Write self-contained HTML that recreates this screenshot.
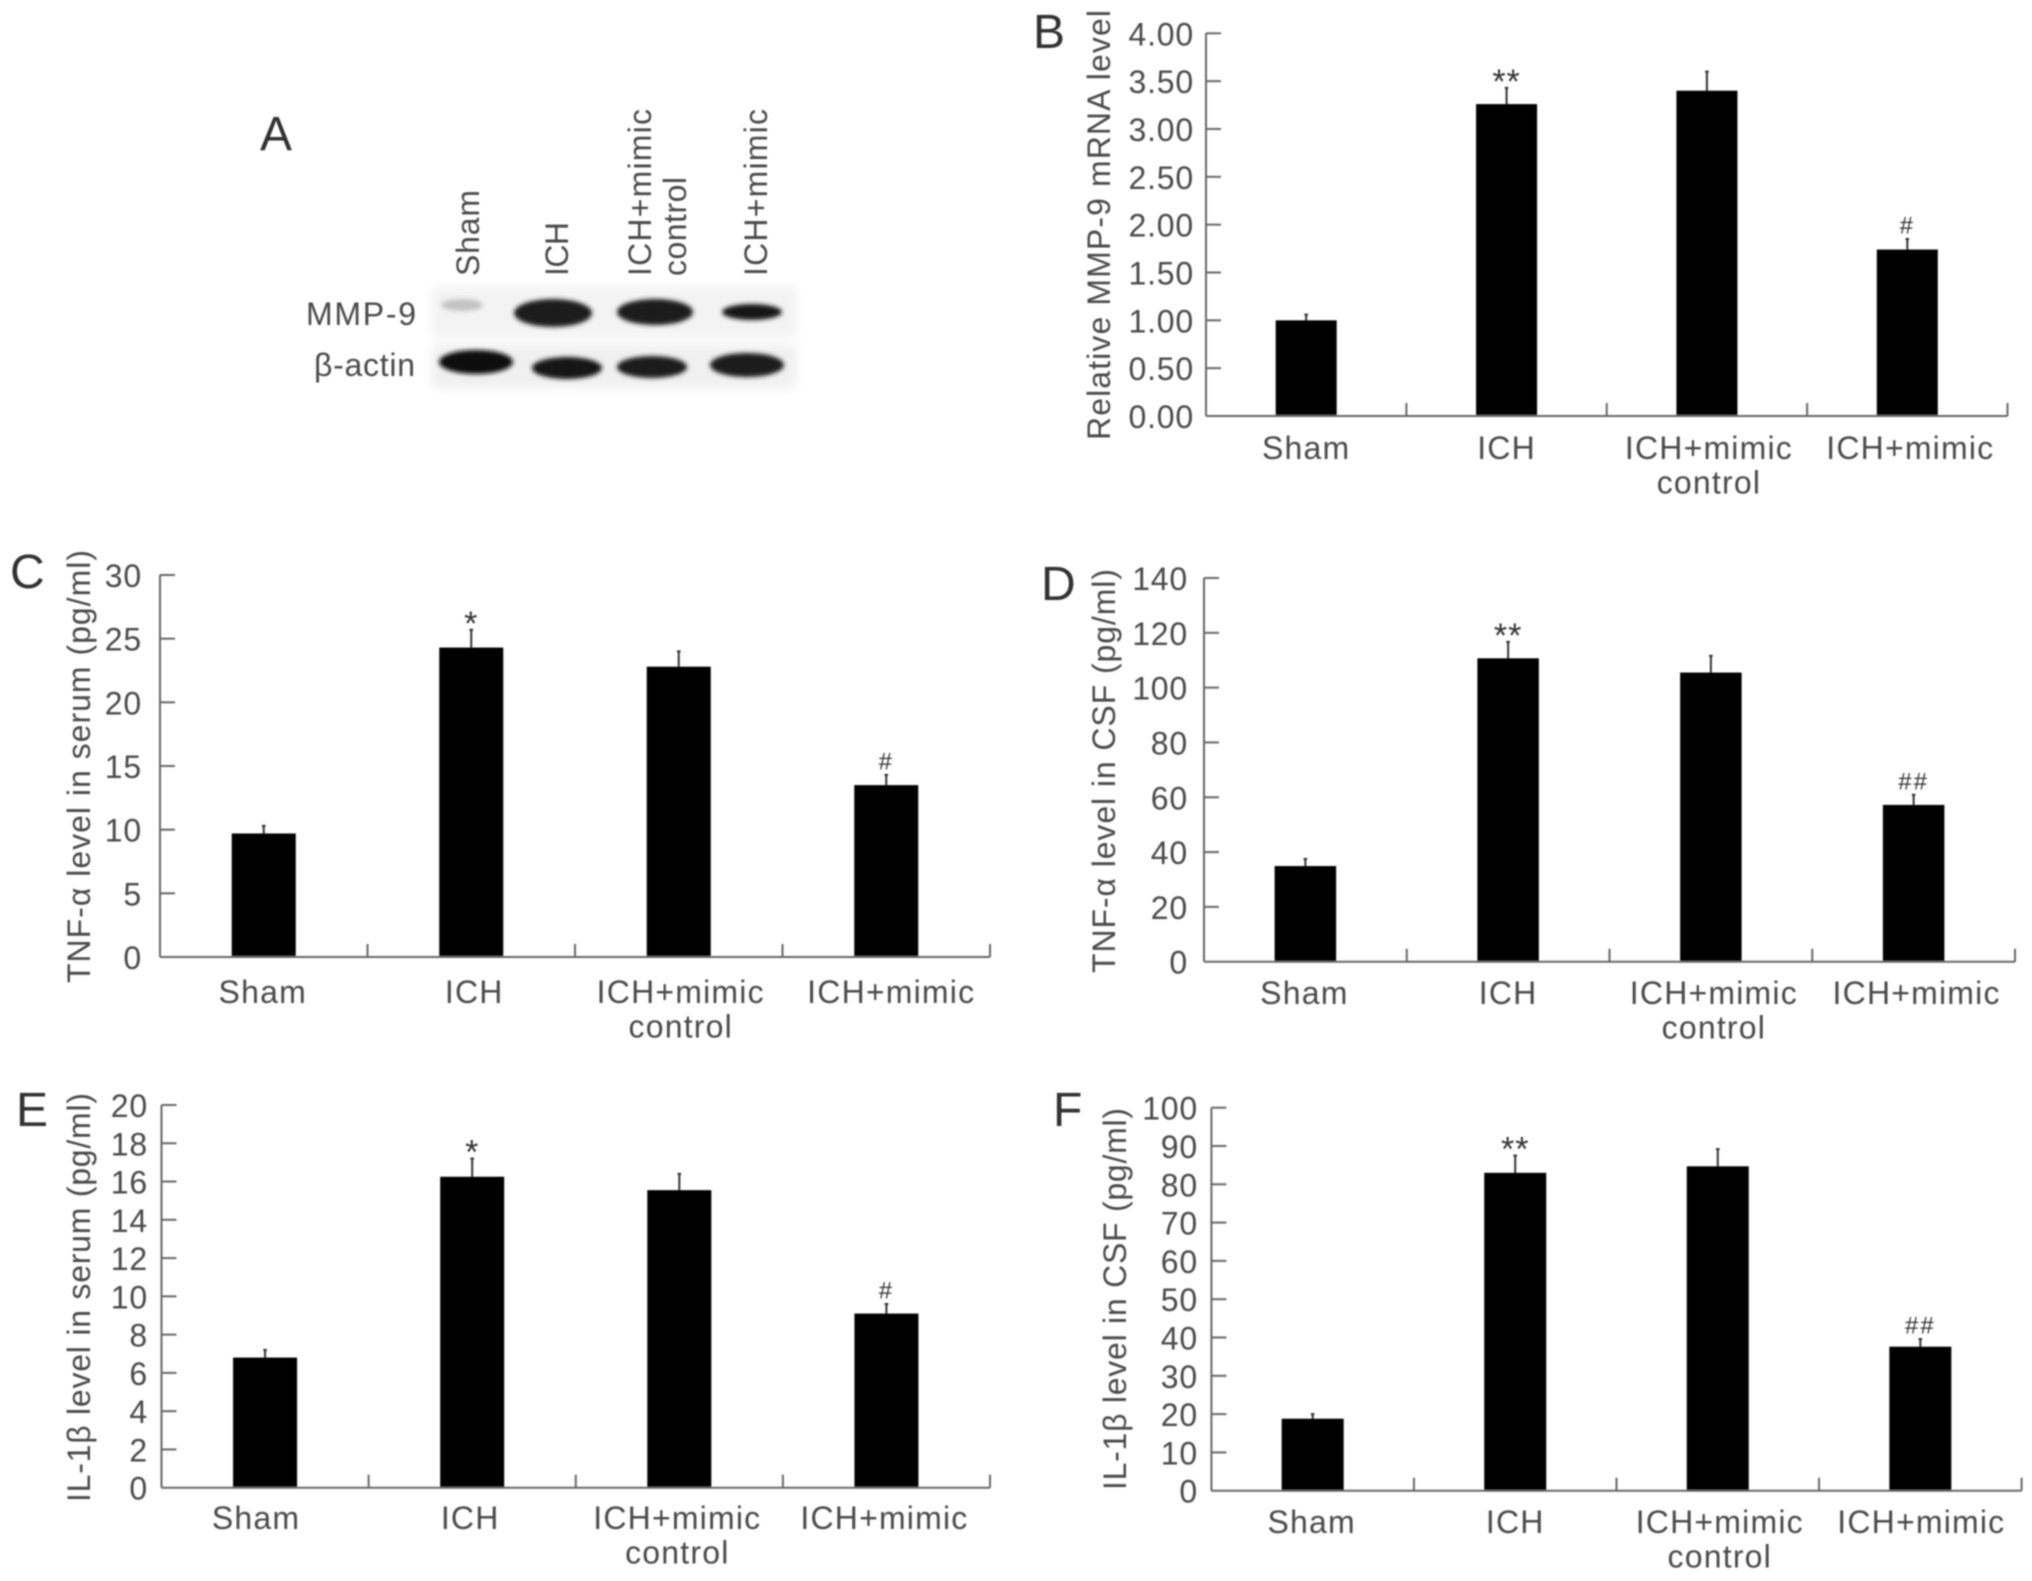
<!DOCTYPE html>
<html lang="en">
<head>
<meta charset="utf-8">
<title>MMP-9, TNF-α and IL-1β levels by treatment group</title>
<style>
  html, body { margin: 0; padding: 0; background: #fff; }
  #figure { display: block; width: 2032px; height: 1581px; }
  text { font-family: "Liberation Sans", "DejaVu Sans", sans-serif; fill: #4a4a4a; }
</style>
</head>
<body>
<svg id="figure" xmlns="http://www.w3.org/2000/svg" width="2032" height="1581" viewBox="0 0 2032 1581">
  <defs>
    <filter id="soft" x="-2%" y="-2%" width="104%" height="104%"><feGaussianBlur stdDeviation="0.9"/></filter>
    <filter id="band" x="-30%" y="-60%" width="160%" height="220%"><feGaussianBlur stdDeviation="2.4"/></filter>
    <filter id="halo" x="-5%" y="-10%" width="110%" height="120%"><feGaussianBlur stdDeviation="5"/></filter>
  </defs>
  <rect width="2032" height="1581" fill="#fff"/>

  <g id="panel-a">
    <g filter="url(#halo)">
      <rect x="432" y="287" width="364" height="50" fill="#f3f3f3"/>
      <rect x="432" y="345" width="364" height="43" fill="#f0f0f0"/>
    </g>
    <g filter="url(#band)">
      <ellipse cx="462" cy="305" rx="21" ry="6" fill="#c2c2c2"/>
      <ellipse cx="553" cy="313" rx="39" ry="14" fill="#1c1c1c"/>
      <ellipse cx="655" cy="312" rx="38" ry="13" fill="#1c1c1c"/>
      <ellipse cx="752" cy="312" rx="30" ry="8" fill="#141414"/>
    </g>
    <g filter="url(#band)">
      <ellipse cx="476" cy="362" rx="37" ry="12" fill="#0e0e0e"/>
      <ellipse cx="567" cy="368" rx="35" ry="11" fill="#141414"/>
      <ellipse cx="652" cy="367" rx="35" ry="11" fill="#1e1e1e"/>
      <ellipse cx="747" cy="365" rx="37" ry="12" fill="#1c1c1c"/>
    </g>
    <g filter="url(#soft)">
      <text transform="translate(479,276) rotate(-90)" font-size="32" textLength="86">Sham</text>
      <text transform="translate(568,276) rotate(-90)" font-size="32" textLength="54">ICH</text>
      <text transform="translate(651,276) rotate(-90)" font-size="32" textLength="167">ICH+mimic</text>
      <text transform="translate(686,276) rotate(-90)" font-size="32" textLength="99">control</text>
      <text transform="translate(767,276) rotate(-90)" font-size="32" textLength="167">ICH+mimic</text>
      <text x="306" y="325" font-size="32" textLength="110">MMP-9</text>
      <text x="314" y="376" font-size="32" textLength="101">β-actin</text>
      <text x="260" y="150" font-size="48" style="fill:#333">A</text>
    </g>
  </g>
  <g id="charts" filter="url(#soft)"></g>
</svg>

<script>
var categories = [["Sham"], ["ICH"], ["ICH+mimic", "control"], ["ICH+mimic"]];

var bTicks = ["0.00", "0.50", "1.00", "1.50", "2.00", "2.50", "3.00", "3.50", "4.00"];
var bMeans = [1.00, 3.26, 3.40, 1.74];
var bErrorTops = [1.06, 3.43, 3.60, 1.85];
var bMarks = ["", "**", "", "#"];

var cTicks = ["0", "5", "10", "15", "20", "25", "30"];
var cMeans = [9.7, 24.3, 22.8, 13.5];
var cErrorTops = [10.3, 25.7, 24.0, 14.3];
var cMarks = ["", "*", "", "#"];

var dTicks = ["0", "20", "40", "60", "80", "100", "120", "140"];
var dMeans = [34.9, 110.7, 105.5, 57.2];
var dErrorTops = [37.5, 116.7, 111.6, 60.9];
var dMarks = ["", "**", "", "##"];

var eTicks = ["0", "2", "4", "6", "8", "10", "12", "14", "16", "18", "20"];
var eMeans = [6.8, 16.25, 15.55, 9.1];
var eErrorTops = [7.2, 17.2, 16.4, 9.6];
var eMarks = ["", "*", "", "#"];

var fTicks = ["0", "10", "20", "30", "40", "50", "60", "70", "80", "90", "100"];
var fMeans = [18.8, 83.0, 84.7, 37.6];
var fErrorTops = [20.0, 87.5, 89.2, 39.6];
var fMarks = ["", "**", "", "##"];

var NS = "http://www.w3.org/2000/svg";
var root = document.getElementById("charts");

function make(tag, attrs, parent, content) {
  var node = document.createElementNS(NS, tag);
  for (var k in attrs) node.setAttribute(k, attrs[k]);
  if (content !== undefined) node.textContent = content;
  parent.appendChild(node);
  return node;
}

function drawPanel(p) {
  var group = make("g", {}, root);
  
  

  var yMax = parseFloat(p.ticks[p.ticks.length - 1]);
  var yScale = function (v) { return p.bottom - (v / yMax) * (p.bottom - p.top); };
  var band = (p.right - p.left) / p.means.length;
  var xScale = function (i) { return p.left + (i + 0.5) * band; };
  var axisStyle = { stroke: "#666", "stroke-width": 2, fill: "none" };

  var letter = make("text", { x: p.letterX, y: p.letterY, "font-size": 48, style: "fill:#333" }, group, p.id.toUpperCase());
  
  

  var title = make("text", { transform: "translate(" + p.titleX + "," + p.titleBottom + ") rotate(-90)", "font-size": 32, textLength: p.titleBottom - p.titleTop }, group, p.title);
  
  

  p.means.forEach(function (value, i) {
    var cx = xScale(i);
    var top = yScale(value);
    var errTop = yScale(p.errorTops[i]);

    var err = make("line", { x1: cx, x2: cx, y1: top + 6, y2: errTop, stroke: "#333", "stroke-width": 2 }, group);
    
    

    var cap = make("line", { x1: cx - 1.8, x2: cx + 1.8, y1: errTop, y2: errTop, stroke: "#333", "stroke-width": 2 }, group);
    
    

    var bar = make("rect", { x: cx - p.barWidth / 2, y: top, width: p.barWidth, height: p.bottom - top, fill: "#000" }, group);
    
    

    var mark = p.marks[i];
    if (mark) {
      var star = mark.charAt(0) === "*";
      var markText = make("text", {
        x: cx, y: errTop - 14 + (star ? 19 : 8.5), "text-anchor": "middle",
        "font-size": star ? 34 : 24, "letter-spacing": star ? 1 : 2, style: "fill:#333"
      }, group, mark);
      
      
    }

    categories[i].forEach(function (line, n) {
      var label = make("text", {
        x: cx + p.labelDx[i], y: p.labelY + n * 34.5, "text-anchor": "middle",
        "font-size": 32, "letter-spacing": 1.2
      }, group, line);
      
      
    });

    var sep = make("line", Object.assign({ x1: p.left + (i + 1) * band, x2: p.left + (i + 1) * band, y1: p.bottom, y2: p.bottom - 13 }, axisStyle), group);
    
    
  });

  var yAxis = make("line", Object.assign({ x1: p.left, x2: p.left, y1: p.top, y2: p.bottom }, axisStyle), group);
  
  

  var xAxis = make("line", Object.assign({ x1: p.left, x2: p.right, y1: p.bottom, y2: p.bottom }, axisStyle), group);
  
  

  p.ticks.forEach(function (tick, i) {
    var y = yScale(parseFloat(tick));
    if (i > 0) {
      var mark = make("line", Object.assign({ x1: p.left, x2: p.left + 15, y1: y, y2: y }, axisStyle), group);
      
      
    }
    var label = make("text", { x: p.tickLabelX, y: y + 12, "text-anchor": "end", "font-size": 32, "letter-spacing": 0.8 }, group, tick);
    
    
  });
}

drawPanel({ id: "b", title: "Relative MMP-9 mRNA level", ticks: bTicks, means: bMeans, errorTops: bErrorTops, marks: bMarks,
  left: 1206, right: 2007.5, top: 33.3, bottom: 416, barWidth: 61, tickLabelX: 1194, labelY: 459, labelDx: [0, 0, 2, 3],
  titleX: 1110, titleTop: 10, titleBottom: 440, letterX: 1033, letterY: 48 });

drawPanel({ id: "c", title: "TNF-α level in serum (pg/ml)", ticks: cTicks, means: cMeans, errorTops: cErrorTops, marks: cMarks,
  left: 160, right: 990, top: 575, bottom: 957, barWidth: 64, tickLabelX: 142, labelY: 1003, labelDx: [-1, 3, 2, 5],
  titleX: 90, titleTop: 550, titleBottom: 983, letterX: 10, letterY: 588 });

drawPanel({ id: "d", title: "TNF-α level in CSF (pg/ml)", ticks: dTicks, means: dMeans, errorTops: dErrorTops, marks: dMarks,
  left: 1204, right: 2015, top: 578, bottom: 961.7, barWidth: 61.5, tickLabelX: 1188, labelY: 1004, labelDx: [-1, 0, 3, 3],
  titleX: 1115, titleTop: 569, titleBottom: 973, letterX: 1041, letterY: 600 });

drawPanel({ id: "e", title: "IL-1β level in serum (pg/ml)", ticks: eTicks, means: eMeans, errorTops: eErrorTops, marks: eMarks,
  left: 161.5, right: 990, top: 1105, bottom: 1487.7, barWidth: 64, tickLabelX: 148, labelY: 1529, labelDx: [-9, -2, -2, -2],
  titleX: 90, titleTop: 1093, titleBottom: 1502, letterX: 16, letterY: 1126 });

drawPanel({ id: "f", title: "IL-1β level in CSF (pg/ml)", ticks: fTicks, means: fMeans, errorTops: fErrorTops, marks: fMarks,
  left: 1211.4, right: 2021.6, top: 1107.7, bottom: 1490.7, barWidth: 62, tickLabelX: 1198, labelY: 1533, labelDx: [-1, 0, 2, 1],
  titleX: 1126, titleTop: 1108, titleBottom: 1490, letterX: 1053, letterY: 1126 });
</script>
</body>
</html>
